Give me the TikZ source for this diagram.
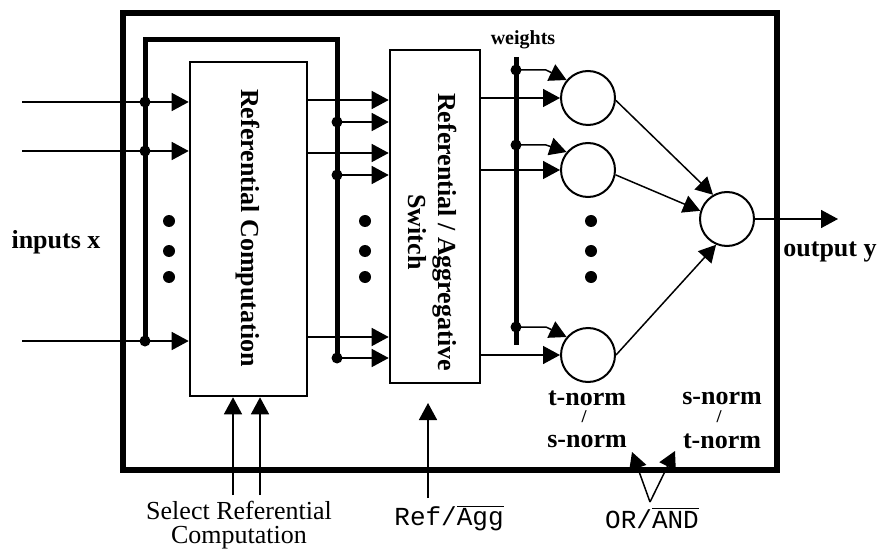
\documentclass[tikz,border=0pt]{standalone}
\usepackage{fontspec}
\setmainfont{Liberation Serif}
\setmonofont{Liberation Mono}
\usetikzlibrary{arrows.meta,positioning,calc}
\tikzset{
  blk/.style={draw, line width=1.3pt, inner sep=0pt},
  neuron/.style={circle, draw, line width=1pt, minimum size=27pt, inner sep=0pt},
  jn/.style={circle, fill=black, inner sep=0pt, minimum size=5.5pt},
  sig/.style={-{Triangle[length=8.5pt,width=9pt]}, line width=0.75pt},
  bus/.style={line width=2.5pt},
  lab/.style={font=\fontsize{13}{15}\selectfont\bfseries},
  rmlab/.style={font=\fontsize{13}{12}\selectfont, align=center},
  ttlab/.style={font=\fontsize{13}{15}\selectfont\ttfamily},
}

\begin{document}
\begin{tikzpicture}[x=0.5pt, y=-0.5pt]
  \useasboundingbox (0,0) rectangle (886,550);
  % frame
  \draw[line width=3.3pt] (123,13) rectangle (777,470);

  % the two blocks
  \node[blk, minimum width=58.5pt, minimum height=167pt] (rc) at (248.5,229) {};
  \node[lab, rotate=-90] (rctxt) at (248,228) {Referential Computation};
  \node[blk, minimum width=45pt, minimum height=166.5pt] (sw) at (435,216.5) {};
  \node[lab, rotate=-90, align=center] (swtxt) at (433,232) {Referential / Aggregative\\Switch};

  % bus round the first block
  \coordinate (bl) at (145,341);
  \coordinate (bt) at (240,40);
  \coordinate (br) at (337,358);
  \draw[bus] (bl) |- (bt) -| (br);

  % inputs
  \foreach \y [count=\i] in {102,151,341} {
    \coordinate (in\i) at (22,\y);
    \draw[sig] (in\i) -- (in\i -| rc.west);
    \node[jn] (din\i) at (145,\y) {};
  }

  % block outputs and bus taps into the switch
  \foreach \y/\z [count=\i] in {100/122,153/175,337/358} {
    \coordinate (ro\i) at (rc.east |- 0,\y);
    \draw[sig] (ro\i) -- (ro\i -| sw.west);
    \node[jn] (db\i) at (337,\z) {};
    \draw[sig] (db\i.center) -- (db\i -| sw.west);
  }

  % ellipsis dots
  \foreach \x in {169,365,591}
    \foreach \y in {221,251,277}
      \node[jn, minimum size=6pt] (el\x\y) at (\x,\y) {};

  % neurons
  \node[neuron] (c1) at (588,98) {};
  \node[neuron] (c2) at (588,170) {};
  \node[neuron] (c3) at (588,355) {};
  \node[neuron] (out) at (727,219) {};
  \foreach \i in {1,2,3}
    \draw[sig] (sw.east |- c\i) -- (c\i.west);

  % weights
  \coordinate (wt) at (516,57);
  \coordinate (wb) at (516,345);
  \draw[bus] (wt) -- (wb);
  \node[font=\fontsize{10}{12}\selectfont\bfseries] (wts) at (523,40) {weights};
  \foreach \y/\i in {70/1,145/2,327/3} {
    \node[jn] (dw\i) at (516,\y) {};
    \draw[sig] (dw\i.center) -- ++(30,0) -- (c\i.140);
  }

  % into the output neuron
  \draw[sig] (c1.-5) -- (out.120);
  \draw[sig] (c2.-10) -- (out.163);
  \draw[sig] (c3.east) -- (out.-113);
  \coordinate (yend) at (838,219);
  \draw[sig] (out.east) -- (yend);
  \node[lab] (ylab) at (830,252) {output y};
  \node[lab] (xlab) at (56,242) {inputs x};

  % norm labels
  \foreach \x/\a/\b/\n in {587/t/s/l,722/s/t/r} {
    \node[lab, inner sep=0pt] (top\n) at (\x,398) {\a-norm};
    \node[font=\fontsize{9}{9}\selectfont\bfseries, inner sep=0pt] (sl\n) at (\x-3,417) {/};
    \node[lab, inner sep=0pt] (bot\n) at (\x,441) {\b-norm};
  }

  % control signals
  \coordinate (sc1) at (233,495);
  \coordinate (sc2) at (260,495);
  \draw[sig] (sc1) -- (sc1 |- rc.south);
  \draw[sig] (sc2) -- (sc2 |- rc.south);
  \node[rmlab] (sclab) at (239,525) {Select Referential\\Computation};

  \coordinate (ra) at (428,498);
  \coordinate (ratip) at (428,403);
  \draw[sig] (ra) -- (ratip);
  \node[ttlab] (ralab) at (449,518) {Ref/$\overline{\mbox{Agg}}$};

  \coordinate (oa) at (650,502);
  \coordinate (oal) at (632,452);
  \coordinate (oar) at (675,451);
  \draw[sig] (oa) -- (oal);
  \draw[sig] (oa) -- (oar);
  \node[ttlab] (oalab) at (652,518) {OR/$\overline{\mbox{AND}}$};
\end{tikzpicture}
\end{document}
